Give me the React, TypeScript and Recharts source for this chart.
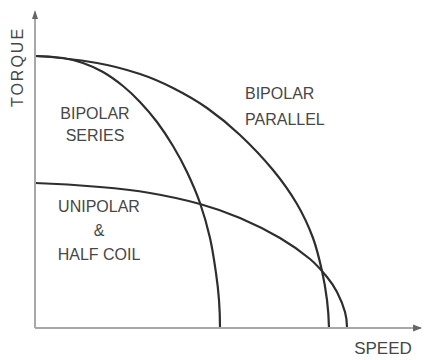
import React from 'react';
import { LineChart, Line, XAxis, YAxis, ReferenceDot } from 'recharts';

// speed / torque (arbitrary units)
const bipolarSeries = [
  { speed: 0, torque: 272 },
  { speed: 28, torque: 270 },
  { speed: 48, torque: 265 },
  { speed: 68, torque: 256 },
  { speed: 88, torque: 242 },
  { speed: 105, torque: 226 },
  { speed: 122, torque: 206 },
  { speed: 138, torque: 182 },
  { speed: 152, torque: 156 },
  { speed: 165, torque: 125 },
  { speed: 175, torque: 90 },
  { speed: 181, torque: 55 },
  { speed: 184, torque: 28 },
  { speed: 185, torque: 0 },
];

const bipolarParallel = [
  { speed: 0, torque: 272 },
  { speed: 62, torque: 265 },
  { speed: 105, torque: 254 },
  { speed: 138, torque: 240 },
  { speed: 172, torque: 220 },
  { speed: 205, torque: 193 },
  { speed: 238, torque: 158 },
  { speed: 262, torque: 124 },
  { speed: 278, torque: 90 },
  { speed: 287, torque: 57 },
  { speed: 292, torque: 28 },
  { speed: 294, torque: 0 },
];

const unipolar = [
  { speed: 0, torque: 145 },
  { speed: 65, torque: 141 },
  { speed: 115, torque: 135 },
  { speed: 165, torque: 124 },
  { speed: 205, torque: 110 },
  { speed: 245, torque: 90 },
  { speed: 275, torque: 69 },
  { speed: 292, torque: 51 },
  { speed: 302, torque: 36 },
  { speed: 310, torque: 16 },
  { speed: 312, torque: 0 },
];

const seriesLabel = ['BIPOLAR', 'SERIES'];
const parallelLabel = ['BIPOLAR', 'PARALLEL'];
const unipolarLabel = ['UNIPOLAR', '&', 'HALF COIL'];
const xTitle = 'SPEED';
const yTitle = 'TORQUE';

const X_MAX = 386;
const Y_MAX = 316;
const textColor = '#474747';
const curveColor = '#2e2e2e';
const axisColor = '#a8a8a8';
const font = '"Liberation Sans", Arial, sans-serif';

// chord-length Catmull-Rom style curve, so the steep ends of the arcs stay smooth
const smoothCurve = (context: any) => {
  let pts: number[][] = [];
  return {
    areaStart() {},
    areaEnd() {},
    lineStart() {
      pts = [];
    },
    point(x: number, y: number) {
      pts.push([+x, +y]);
    },
    lineEnd() {
      const n = pts.length;
      if (!n) return;
      context.moveTo(pts[0][0], pts[0][1]);
      if (n < 3) {
        for (let i = 1; i < n; i++) context.lineTo(pts[i][0], pts[i][1]);
        return;
      }
      const d: number[] = [];
      for (let i = 0; i < n - 1; i++) {
        d.push(Math.hypot(pts[i + 1][0] - pts[i][0], pts[i + 1][1] - pts[i][1]) || 1e-6);
      }
      const m: number[][] = new Array(n);
      for (let i = 1; i < n - 1; i++) {
        const s = d[i - 1] + d[i];
        m[i] = [(pts[i + 1][0] - pts[i - 1][0]) / s, (pts[i + 1][1] - pts[i - 1][1]) / s];
      }
      m[0] = [
        (2 * (pts[1][0] - pts[0][0])) / d[0] - m[1][0],
        (2 * (pts[1][1] - pts[0][1])) / d[0] - m[1][1],
      ];
      m[n - 1] = [
        (2 * (pts[n - 1][0] - pts[n - 2][0])) / d[n - 2] - m[n - 2][0],
        (2 * (pts[n - 1][1] - pts[n - 2][1])) / d[n - 2] - m[n - 2][1],
      ];
      for (let i = 0; i < n - 1; i++) {
        const k = d[i] / 3;
        context.bezierCurveTo(
          pts[i][0] + m[i][0] * k,
          pts[i][1] + m[i][1] * k,
          pts[i + 1][0] - m[i + 1][0] * k,
          pts[i + 1][1] - m[i + 1][1] * k,
          pts[i + 1][0],
          pts[i + 1][1]
        );
      }
    },
  };
};

const blockText = (lines: string[], gap: number, anchor: 'middle' | 'start') => (props: any) => (
  <text
    x={props.cx}
    y={props.cy}
    fill={textColor}
    fontFamily={font}
    fontSize={16}
    textAnchor={anchor}
    dominantBaseline="central"
  >
    {lines.map((l, i) => (
      <tspan key={i} x={props.cx} dy={i === 0 ? 0 : gap}>
        {l}
      </tspan>
    ))}
  </text>
);

const arrowRight = (props: any) => (
  <polygon
    points={`${props.cx + 1},${props.cy} ${props.cx - 8},${props.cy - 3.5} ${props.cx - 8},${props.cy + 3.5}`}
    fill="#666"
  />
);

const arrowUp = (props: any) => (
  <polygon
    points={`${props.cx},${props.cy - 2} ${props.cx - 3},${props.cy + 7} ${props.cx + 3},${props.cy + 7}`}
    fill="#666"
  />
);

const yTitleShape = (props: any) => (
  <text
    x={props.cx}
    y={props.cy}
    fill={textColor}
    fontFamily={font}
    fontSize={16}
    letterSpacing={2}
    textAnchor="middle"
    dominantBaseline="central"
    transform={`rotate(-90 ${props.cx} ${props.cy})`}
  >
    {yTitle}
  </text>
);

const xTitleShape = (props: any) => (
  <text
    x={props.cx}
    y={props.cy}
    fill={textColor}
    fontFamily={font}
    fontSize={17}
    textAnchor="middle"
    dominantBaseline="central"
  >
    {xTitle}
  </text>
);

export default function App() {
  return (
    <div style={{ position: 'absolute', left: 0, top: 0, width: 425, height: 360, background: '#fff' }}>
      <LineChart width={425} height={360} margin={{ top: 12, right: 4, bottom: 31, left: 34 }}>
        <XAxis
          type="number"
          dataKey="speed"
          domain={[0, X_MAX]}
          allowDataOverflow
          height={1}
          tick={false}
          tickLine={false}
          axisLine={{ stroke: axisColor, strokeWidth: 2 }}
        />
        <YAxis
          type="number"
          dataKey="torque"
          domain={[0, Y_MAX]}
          allowDataOverflow
          width={1}
          tick={false}
          tickLine={false}
          axisLine={{ stroke: axisColor, strokeWidth: 2 }}
        />
        <Line data={bipolarSeries} dataKey="torque" type={smoothCurve as any} stroke={curveColor} strokeWidth={2.2} dot={false} isAnimationActive={false} />
        <Line data={bipolarParallel} dataKey="torque" type={smoothCurve as any} stroke={curveColor} strokeWidth={2.2} dot={false} isAnimationActive={false} />
        <Line data={unipolar} dataKey="torque" type={smoothCurve as any} stroke={curveColor} strokeWidth={2.2} dot={false} isAnimationActive={false} />
        <ReferenceDot x={X_MAX} y={0} ifOverflow="visible" shape={arrowRight} />
        <ReferenceDot x={0} y={Y_MAX} ifOverflow="visible" shape={arrowUp} />
        <ReferenceDot x={60} y={215} ifOverflow="visible" shape={blockText(seriesLabel, 22, 'middle')} />
        <ReferenceDot x={210} y={235} ifOverflow="visible" shape={blockText(parallelLabel, 26, 'start')} />
        <ReferenceDot x={64} y={122} ifOverflow="visible" shape={blockText(unipolarLabel, 24, 'middle')} />
        <ReferenceDot x={-18} y={261} ifOverflow="visible" shape={yTitleShape} />
        <ReferenceDot x={348} y={-20} ifOverflow="visible" shape={xTitleShape} />
      </LineChart>
    </div>
  );
}
